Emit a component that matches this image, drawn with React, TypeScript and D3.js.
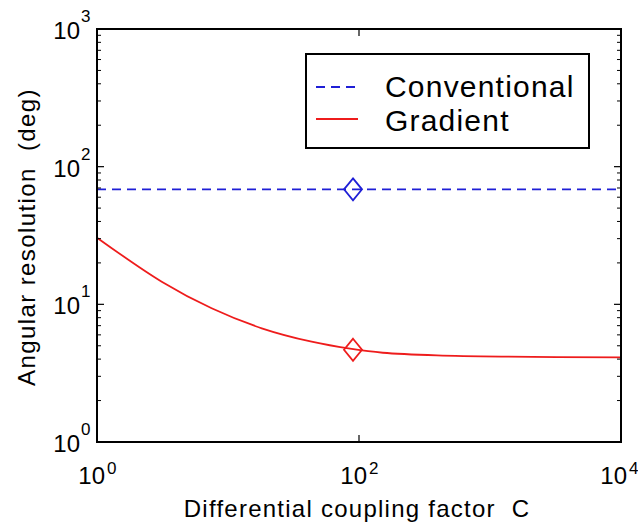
import React from "react";
import * as d3 from "d3";

const xTickExps = [0, 2, 4];
const yTickExps = [0, 1, 2, 3];
const gradientC = [1, 3.12, 7.5, 18.1, 43.5, 88, 152, 394, 1349, 10000];
const gradientDeg = [30.5, 14.6, 9.36, 6.7, 5.35, 4.74, 4.45, 4.26, 4.17, 4.12];
const conventionalC = [1, 10000];
const conventionalDeg = [68.4, 68.4];
const markerC = [90];
const markerConventional = [68.4];
const markerGradient = [4.68];
const legendLabels = ["Conventional", "Gradient"];
const xLabel = "Differential coupling factor  C";
const yLabel = "Angular resolution  (deg)";

const W = 638, H = 525;
const L = 97, R = 621, T = 29, B = 442;
const FONT = "'Liberation Sans', Arial, Helvetica, sans-serif";
const BLUE = "#1f1fd6";
const RED = "#ee1c1c";

export default function App() {
  const x = d3.scaleLog().domain([1, 1e4]).range([L, R]);
  const y = d3.scaleLog().domain([1, 1e3]).range([B, T]);

  const line = d3
    .line<[number, number]>()
    .x((d) => x(d[0]))
    .y((d) => y(d[1]))
    .curve(d3.curveCatmullRom.alpha(0.5));

  const gradPts: [number, number][] = gradientC.map((c, i) => [c, gradientDeg[i]]);
  const convPts: [number, number][] = conventionalC.map((c, i) => [c, conventionalDeg[i]]);

  const minorY: number[] = [];
  for (let d = 0; d < 3; d++) for (let m = 2; m <= 9; m++) minorY.push(m * Math.pow(10, d));

  const diamond = (cx: number, cy: number, color: string, key: string) => (
    <path
      key={key}
      d={`M${cx},${cy - 11}L${cx + 9},${cy}L${cx},${cy + 11}L${cx - 9},${cy}Z`}
      fill="none"
      stroke={color}
      strokeWidth={1.8}
    />
  );

  const pre = { whiteSpace: "pre" as const };

  return (
    <svg
      width={W}
      height={H}
      style={{ position: "absolute", left: 0, top: 0, background: "#fff" }}
      fontFamily={FONT}
    >
      <rect x={0} y={0} width={W} height={H} fill="#fff" />
      {/* lines */}
      <path d={line(convPts) || ""} fill="none" stroke={BLUE} strokeWidth={1.8} strokeDasharray="9,6" />
      <path d={line(gradPts) || ""} fill="none" stroke={RED} strokeWidth={1.8} />
      {markerC.map((c, i) => diamond(x(c), y(markerConventional[i]), BLUE, "mc" + i))}
      {markerC.map((c, i) => diamond(x(c), y(markerGradient[i]), RED, "mg" + i))}

      {/* axes box */}
      <rect x={L} y={T} width={R - L} height={B - T} fill="none" stroke="#000" strokeWidth={2} />

      {/* y ticks */}
      {yTickExps.map((e) => {
        const yy = y(Math.pow(10, e));
        return (
          <g key={"yt" + e}>
            <line x1={L} x2={L + 7} y1={yy} y2={yy} stroke="#000" strokeWidth={1.2} />
            <line x1={R} x2={R - 7} y1={yy} y2={yy} stroke="#000" strokeWidth={1.2} />
            <text x={80} y={yy + 10} fontSize={24} textAnchor="end" fill="#000">10</text>
            <text x={81} y={yy - 7} fontSize={17} fill="#000">{e}</text>
          </g>
        );
      })}
      {minorY.map((v) => (
        <g key={"ym" + v}>
          <line x1={L} x2={L + 4} y1={y(v)} y2={y(v)} stroke="#000" strokeWidth={1} />
          <line x1={R} x2={R - 4} y1={y(v)} y2={y(v)} stroke="#000" strokeWidth={1} />
        </g>
      ))}

      {/* x ticks */}
      {xTickExps.map((e, i) => {
        const xx = x(Math.pow(10, e));
        const shift = i === xTickExps.length - 1 ? -2 : 0;
        return (
          <g key={"xt" + e}>
            <line x1={xx} x2={xx} y1={B} y2={B - 7} stroke="#000" strokeWidth={1.2} />
            <line x1={xx} x2={xx} y1={T} y2={T + 7} stroke="#000" strokeWidth={1.2} />
            <text x={xx + 8 + shift} y={484} fontSize={24} textAnchor="end" fill="#000">10</text>
            <text x={xx + 10 + shift} y={474} fontSize={17} fill="#000">{e}</text>
          </g>
        );
      })}

      {/* axis labels */}
      <text x={357} y={517} fontSize={24} textAnchor="middle" letterSpacing={1.25} fill="#000" style={pre}>
        {xLabel}
      </text>
      <text
        transform={`translate(35,237) rotate(-90)`}
        fontSize={24}
        textAnchor="middle"
        letterSpacing={1.4}
        fill="#000"
        style={pre}
      >
        {yLabel}
      </text>

      {/* legend */}
      <rect x={306} y={54} width={283} height={94} fill="#fff" stroke="#000" strokeWidth={2} />
      <line x1={316} x2={358} y1={87} y2={87} stroke={BLUE} strokeWidth={1.8} strokeDasharray="9,6" />
      <line x1={316} x2={358} y1={119} y2={119} stroke={RED} strokeWidth={1.8} />
      <text x={385} y={97} fontSize={30} letterSpacing={1.2} fill="#000">{legendLabels[0]}</text>
      <text x={385} y={131} fontSize={30} letterSpacing={1.2} fill="#000">{legendLabels[1]}</text>
    </svg>
  );
}
